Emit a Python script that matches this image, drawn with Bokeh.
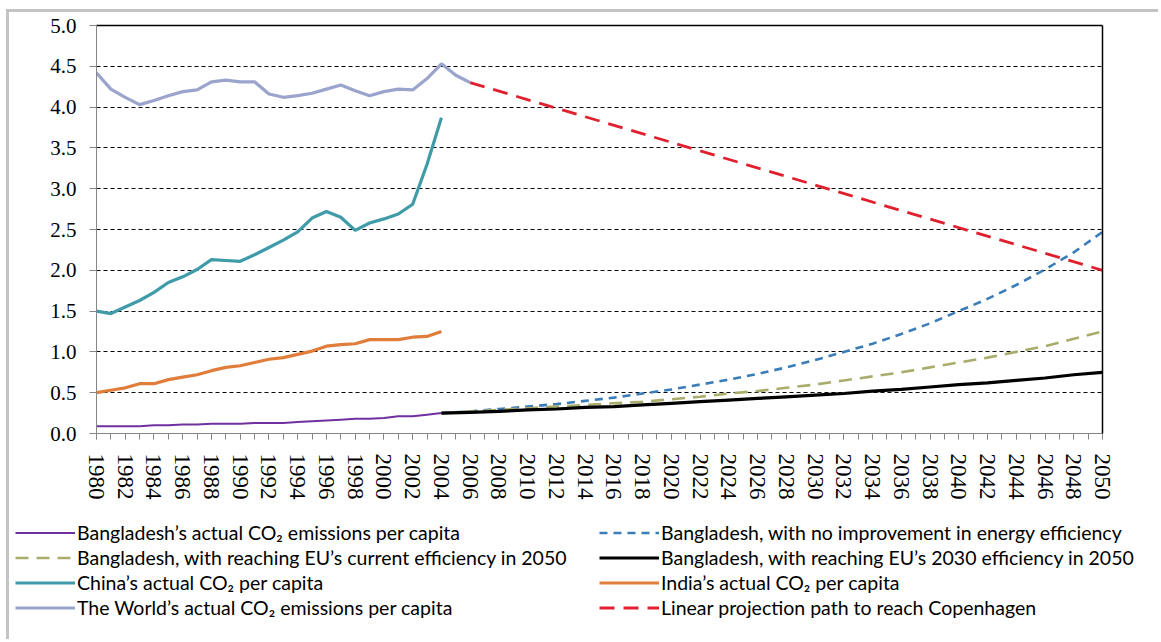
from bokeh.plotting import figure
from bokeh.models import Range1d, FixedTicker, LinearAxis, Legend, LegendItem, NumeralTickFormatter
from bokeh.embed import file_html
from bokeh.resources import INLINE

# ---------------- data ----------------
actual_years = list(range(1980, 2005))
bangladesh_actual = [0.09, 0.09, 0.09, 0.09, 0.10, 0.10, 0.11, 0.11, 0.12, 0.12,
                     0.12, 0.13, 0.13, 0.13, 0.14, 0.15, 0.16, 0.17, 0.18, 0.18,
                     0.19, 0.21, 0.21, 0.23, 0.25]
china_actual = [1.50, 1.47, 1.55, 1.63, 1.73, 1.85, 1.92, 2.01, 2.13, 2.12,
                2.11, 2.19, 2.28, 2.37, 2.47, 2.64, 2.72, 2.65, 2.49, 2.58,
                2.63, 2.69, 2.81, 3.30, 3.87]
india_actual = [0.50, 0.53, 0.56, 0.61, 0.61, 0.66, 0.69, 0.72, 0.77, 0.81,
                0.83, 0.87, 0.91, 0.93, 0.97, 1.01, 1.07, 1.09, 1.10, 1.15,
                1.15, 1.15, 1.18, 1.19, 1.25]
world_years = list(range(1980, 2007))
world_actual = [4.42, 4.22, 4.12, 4.03, 4.08, 4.14, 4.19, 4.21, 4.31, 4.33,
                4.31, 4.31, 4.16, 4.12, 4.14, 4.17, 4.22, 4.27, 4.20, 4.14,
                4.19, 4.22, 4.21, 4.35, 4.53, 4.39, 4.30]

proj_years = list(range(2004, 2051, 2))
bd_no_improvement = [0.25, 0.27, 0.30, 0.33, 0.36, 0.40, 0.44, 0.49, 0.54, 0.60,
                     0.66, 0.73, 0.81, 0.90, 1.00, 1.10, 1.22, 1.35, 1.50, 1.65,
                     1.82, 2.01, 2.22, 2.47]
bd_eu_current = [0.25, 0.27, 0.29, 0.31, 0.33, 0.35, 0.37, 0.39, 0.42, 0.45,
                 0.49, 0.52, 0.56, 0.60, 0.65, 0.70, 0.75, 0.81, 0.87, 0.93,
                 1.00, 1.07, 1.16, 1.25]
bd_eu_2030 = [0.25, 0.26, 0.27, 0.29, 0.30, 0.32, 0.33, 0.35, 0.37, 0.39,
              0.41, 0.43, 0.45, 0.47, 0.49, 0.52, 0.54, 0.57, 0.60, 0.62,
              0.65, 0.68, 0.72, 0.75]
copenhagen_years = [2006, 2050]
copenhagen_path = [4.30, 2.00]

x_major = list(range(1980, 2051, 2))
x_minor = list(range(1980, 2051))
y_ticks = [0.0, 0.5, 1.0, 1.5, 2.0, 2.5, 3.0, 3.5, 4.0, 4.5, 5.0]
grid_ticks = [0.5, 1.0, 1.5, 2.0, 2.5, 3.0, 3.5, 4.0, 4.5]

labels_left = [
    "Bangladesh\u2019s actual CO\u2082 emissions per capita",
    "Bangladesh, with reaching EU\u2019s current efficiency in 2050",
    "China\u2019s actual CO\u2082 per capita",
    "The World\u2019s actual CO\u2082 emissions per capita",
]
labels_right = [
    "Bangladesh, with no improvement in energy efficiency",
    "Bangladesh, with reaching EU\u2019s 2030 efficiency in 2050",
    "India\u2019s actual CO\u2082 per capita",
    "Linear projection path to reach Copenhagen",
]

# series: (x, y, style)
series = {
    "world": (world_years, world_actual, dict(line_color="#9aa4cc", line_width=3.2)),
    "china": (actual_years, china_actual, dict(line_color="#3f9ba8", line_width=3.2)),
    "india": (actual_years, india_actual, dict(line_color="#e07d3a", line_width=3.2)),
    "bd": (actual_years, bangladesh_actual, dict(line_color="#7030a0", line_width=2)),
    "noimp": (proj_years, bd_no_improvement, dict(line_color="#3a7db8", line_width=2.6, line_dash="8 6")),
    "eucur": (proj_years, bd_eu_current, dict(line_color="#a9ad6c", line_width=2.6, line_dash="13 8")),
    "eu2030": (proj_years, bd_eu_2030, dict(line_color="black", line_width=3.2)),
    "copen": (copenhagen_years, copenhagen_path, dict(line_color="#e0202e", line_width=2.8, line_dash="15 9")),
}
draw_order = ["world", "china", "india", "bd", "noimp", "eucur", "eu2030", "copen"]

border = "3px solid #c3c3c3"

# ---------------- chart figure ----------------
p = figure(width=1152, height=513,
           x_range=Range1d(1980, 2050), y_range=Range1d(0, 5),
           output_backend="svg", toolbar_location=None,
           min_border_left=87, min_border_right=59,
           min_border_top=13, min_border_bottom=92)
p.styles = {"border-top": border, "border-left": border,
            "margin-left": "6px", "margin-top": "9px"}
p.outline_line_color = None
p.background_fill_color = "white"
p.border_fill_color = "white"

axis_gray = "#868686"
serif = "Liberation Serif"

p.xaxis.ticker = FixedTicker(ticks=x_major, minor_ticks=x_minor)
p.xaxis.major_label_orientation = "vertical"
p.xaxis.major_label_text_font = serif
p.xaxis.major_label_text_font_size = "23px"
p.xaxis.major_label_text_color = "black"
p.xaxis.major_label_standoff = 14
p.xaxis.axis_line_color = axis_gray
p.xaxis.major_tick_line_color = axis_gray
p.xaxis.minor_tick_line_color = axis_gray
p.xaxis.major_tick_in = 0
p.xaxis.major_tick_out = 6
p.xaxis.minor_tick_in = 0
p.xaxis.minor_tick_out = 6

p.yaxis.ticker = FixedTicker(ticks=y_ticks)
p.yaxis.formatter = NumeralTickFormatter(format="0.0")
p.yaxis.major_label_text_font = serif
p.yaxis.major_label_text_font_size = "21px"
p.yaxis.major_label_text_color = "black"
p.yaxis.major_label_standoff = 13
p.yaxis.axis_line_color = axis_gray
p.yaxis.major_tick_line_color = axis_gray
p.yaxis.major_tick_in = 0
p.yaxis.major_tick_out = 7
p.yaxis.minor_tick_line_color = None

top_axis = LinearAxis(axis_line_color="black", axis_line_width=1.5,
                      major_tick_line_color=None, minor_tick_line_color=None,
                      major_label_text_font_size="0px")
right_axis = LinearAxis(axis_line_color="black", axis_line_width=1.5,
                        major_tick_line_color=None, minor_tick_line_color=None,
                        major_label_text_font_size="0px")
p.add_layout(top_axis, "above")
p.add_layout(right_axis, "right")

p.xgrid.visible = False
p.ygrid.ticker = FixedTicker(ticks=grid_ticks)
p.ygrid.grid_line_color = "black"
p.ygrid.grid_line_dash = "4 3"
p.ygrid.grid_line_width = 1

for key in draw_order:
    xs, ys, st = series[key]
    p.line(xs, ys, **st)

# ---------------- legend figure (same series, ranges put them out of view) ----------------
q = figure(width=1152, height=117, x_range=Range1d(0, 1), y_range=Range1d(0, 1),
           output_backend="svg", toolbar_location=None,
           x_axis_type=None, y_axis_type=None,
           min_border_left=0, min_border_right=0, min_border_top=0, min_border_bottom=0)
q.styles = {"border-left": border, "margin-left": "6px"}
q.outline_line_color = None
q.xgrid.visible = False
q.ygrid.visible = False
q.background_fill_color = "white"
q.border_fill_color = "white"

legend_r = {}
for key in draw_order:
    xs, ys, st = series[key]
    legend_r[key] = q.line(xs, ys, **st)

def make_legend(labels, keys, loc):
    return Legend(items=[LegendItem(label=l, renderers=[legend_r[k]]) for l, k in zip(labels, keys)],
                  location=loc, orientation="vertical",
                  label_text_font="Lato", label_text_font_size="19.5px",
                  label_text_color="black",
                  glyph_width=60, glyph_height=21, label_height=21,
                  label_standoff=2, spacing=2, padding=0, margin=0,
                  border_line_alpha=0, background_fill_alpha=0)

q.add_layout(make_legend(labels_left, ["bd", "eucur", "china", "world"], (6, 20)), "center")
q.add_layout(make_legend(labels_right, ["noimp", "eu2030", "india", "copen"], (590, 20)), "center")

open("out.html", "w").write(file_html([p, q], INLINE))
